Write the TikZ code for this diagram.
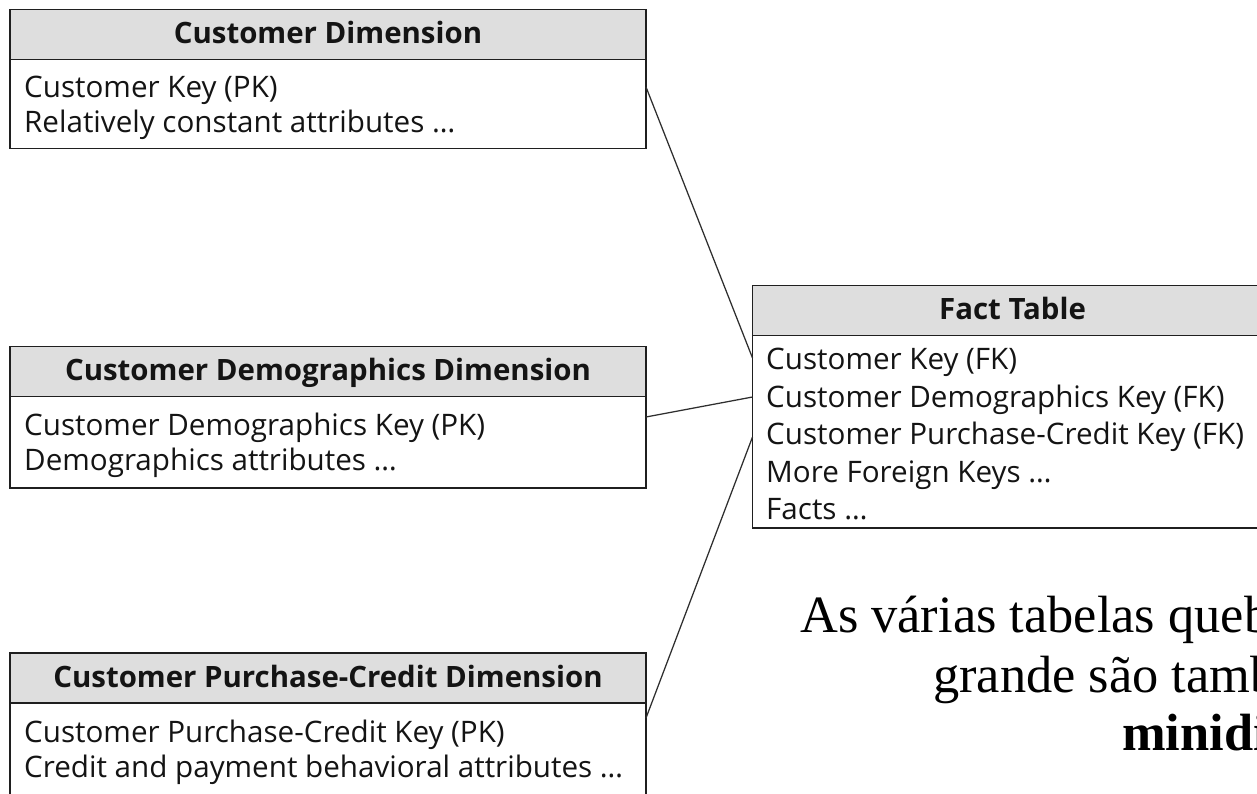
\documentclass[tikz,border=0pt]{standalone}
\usepackage{fontspec}
\newfontfamily\tabfont{Open Sans}
\newfontfamily\notefont{Liberation Serif}
\begin{document}
\begin{tikzpicture}[x=1pt,y=-1pt,
  frame/.style={draw=black!88,line width=1.9pt,inner sep=0pt,outer sep=0pt,anchor=north west},
  hdr/.style={frame,fill=black!13,minimum height=50pt},
  body/.style={frame,fill=white},
  hdrtext/.style={font=\tabfont\bfseries\fontsize{29.4}{34}\selectfont,text=black!92,inner sep=0pt,anchor=base,yshift=-9pt},
  row/.style={font=\tabfont\fontsize{29.6}{34}\selectfont,text=black!92,inner sep=0pt,anchor=base west},
  link/.style={draw=black!82,line width=1.25pt},
  note/.style={font=\notefont\fontsize{52.4}{60}\selectfont,inner sep=0pt,anchor=base west}]
\clip (0,0) rectangle (1257,794);
\fill[white] (0,0) rectangle (1257,794);

% Customer dimension
\node[body,minimum width=636pt,minimum height=89pt] (cdB) at (10,59.5) {};
\node[hdr,minimum width=636pt] (cdH) at (10,9.5) {};
\node[hdrtext] (cdT) at (cdH.center) {Customer Dimension};
\node[row] (cd1) at (24,97.5) {Customer Key (PK)};
\node[row] (cd2) at (24,132.5) {Relatively constant attributes \dots};

% Customer demographics dimension
\node[body,minimum width=636pt,minimum height=91.5pt] (dmB) at (10,396.5) {};
\node[hdr,minimum width=636pt] (dmH) at (10,346.5) {};
\node[hdrtext] (dmT) at (dmH.center) {Customer Demographics Dimension};
\node[row] (dm1) at (24,435) {Customer Demographics Key (PK)};
\node[row] (dm2) at (24,470.5) {Demographics attributes \dots};

% Customer purchase-credit dimension
\node[body,minimum width=636pt,minimum height=120pt] (pcB) at (10,703) {};
\node[hdr,minimum width=636pt] (pcH) at (10,653) {};
\node[hdrtext] (pcT) at (pcH.center) {Customer Purchase-Credit Dimension};
\node[row] (pc1) at (24,742) {Customer Purchase-Credit Key (PK)};
\node[row] (pc2) at (24,777) {Credit and payment behavioral attributes \dots};

% Fact table
\node[body,minimum width=520pt,minimum height=193pt] (ftB) at (752.5,335) {};
\node[hdr,minimum width=520pt] (ftH) at (752.5,285.5) {};
\node[hdrtext] (ftT) at (ftH.center) {Fact Table};
\node[row] (ft1) at (766,369.5) {Customer Key (FK)};
\node[row] (ft2) at (766,407) {Customer Demographics Key (FK)};
\node[row] (ft3) at (766,444.5) {Customer Purchase-Credit Key (FK)};
\node[row] (ft4) at (766,482) {More Foreign Keys \dots};
\node[row] (ft5) at (766,519) {Facts \dots};

% Foreign key links
\draw[link] (cdB.east |- 0,87) -- (ftB.west |- 0,358);
\draw[link] (dmB.east |- 0,417) -- (ftB.west |- 0,397);
\draw[link] (pcB.east |- 0,718) -- (ftB.west |- 0,437);

% Note
\node[note] (n1) at (800,632) {As várias tabelas queb};
\node[note] (n2) at (933,692) {grande são tamb};
\node[note,font=\notefont\bfseries\fontsize{52.4}{60}\selectfont] (n3) at (1122,750) {minidi};
\end{tikzpicture}
\end{document}
